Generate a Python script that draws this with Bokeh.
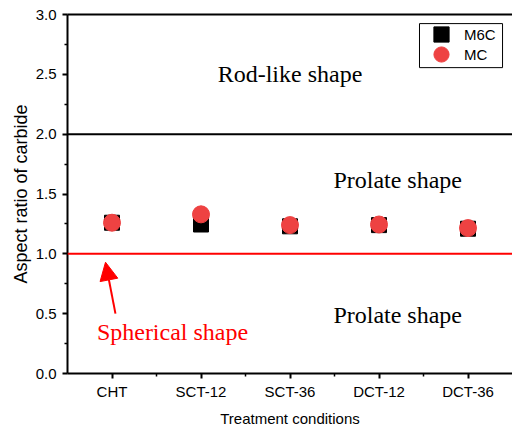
from bokeh.plotting import figure
from bokeh.models import (Range1d, FixedTicker, LinearAxis, Span, Label, Arrow,
                          NormalHead, Whisker, ColumnDataSource, Legend, LegendItem,
                          PrintfTickFormatter, BoxAnnotation)
from bokeh.embed import file_html
from bokeh.resources import INLINE

categories = ["CHT", "SCT-12", "SCT-36", "DCT-12", "DCT-36"]
m6c = [1.26, 1.245, 1.23, 1.24, 1.21]
m6c_err = [0.03, 0.03, 0.02, 0.03, 0.03]
mc = [1.26, 1.33, 1.24, 1.245, 1.215]
mc_err = [0.04, 0.02, 0.02, 0.03, 0.04]
y_ticks = [0.0, 0.5, 1.0, 1.5, 2.0, 2.5, 3.0]

xs = list(range(1, len(categories) + 1))
SANS = "Liberation Sans"
SERIF = "Liberation Serif"
RED = "#EE4242"

p = figure(width=512, height=430, output_backend="svg", toolbar_location=None,
           x_range=Range1d(0.5, len(categories) + 0.5), y_range=Range1d(0, 3),
           min_border_left=67, min_border_right=0, min_border_top=14, min_border_bottom=57)
p.grid.visible = False
p.outline_line_color = None
p.background_fill_color = "white"
p.border_fill_color = "white"

xa = p.xaxis[0]
xa.ticker = FixedTicker(ticks=xs, minor_ticks=[x + 0.5 for x in xs[:-1]])
xa.major_label_overrides = {x: c for x, c in zip(xs, categories)}
xa.axis_label = "Treatment conditions"
ya = p.yaxis[0]
ya.ticker = FixedTicker(ticks=y_ticks, minor_ticks=[t + 0.25 for t in y_ticks[:-1]])
ya.axis_label = "Aspect ratio of carbide"
ya.formatter = PrintfTickFormatter(format="%.1f")

for ax in (xa, ya):
    ax.axis_line_width = 2
    ax.axis_line_color = "black"
    ax.major_tick_line_width = 2
    ax.minor_tick_line_width = 1.5
    ax.major_tick_in = 0
    ax.major_tick_out = 5
    ax.minor_tick_in = 0
    ax.minor_tick_out = 3
    ax.major_label_text_font = SANS
    ax.major_label_text_font_size = "15px"
    ax.major_label_text_color = "black"
    ax.axis_label_text_font = SANS
    ax.axis_label_text_font_style = "normal"
    ax.axis_label_text_color = "black"
xa.major_label_standoff = 4
xa.axis_label_text_font_size = "15px"
xa.axis_label_standoff = 7
ya.major_label_standoff = 6
ya.axis_label_text_font_size = "18px"
ya.axis_label_standoff = 2

top = LinearAxis(ticker=FixedTicker(ticks=[]), major_label_text_font_size="0px",
                 axis_line_width=2, axis_line_color="black",
                 major_tick_line_color=None, minor_tick_line_color=None)
p.add_layout(top, "above")

p.add_layout(Span(location=2.0, dimension="width", line_color="black", line_width=2))
p.add_layout(Span(location=1.0, dimension="width", line_color="#FF0000", line_width=2))

src = ColumnDataSource(dict(x=xs, m6c=m6c, mc=mc,
                            m6c_lo=[v - e for v, e in zip(m6c, m6c_err)],
                            m6c_hi=[v + e for v, e in zip(m6c, m6c_err)],
                            mc_lo=[v - e for v, e in zip(mc, mc_err)],
                            mc_hi=[v + e for v, e in zip(mc, mc_err)]))

r1 = p.scatter("x", "m6c", source=src, marker="square", size=15,
               fill_color="black", line_color="black")
p.add_layout(Whisker(source=src, base="x", lower="m6c_lo", upper="m6c_hi",
                     line_color="#222222", line_width=1,
                     upper_head=None, lower_head=None))
r2 = p.scatter("x", "mc", source=src, marker="circle", size=17,
               fill_color=RED, line_color=RED)
w2 = Whisker(source=src, base="x", lower="mc_lo", upper="mc_hi",
             line_color="#A03030", line_width=1, line_alpha=0.6)
for h in (w2.upper_head, w2.lower_head):
    h.size = 8
    h.line_color = "#A03030"
    h.line_alpha = 0.7
p.add_layout(w2)

# legend frame
p.add_layout(BoxAnnotation(left=4.455, right=5.388, bottom=2.556, top=2.924,
                           fill_color="white", fill_alpha=1,
                           line_color="black", line_width=1, line_alpha=1))

def one_legend(label, r, y):
    lg = Legend(items=[LegendItem(label=label, renderers=[r])],
                location=(355, y), border_line_color=None,
                background_fill_alpha=0,
                label_text_font=SANS, label_text_font_size="15px",
                label_text_color="black",
                padding=0, spacing=0, glyph_height=38, glyph_width=38,
                label_height=20, label_standoff=4, margin=0)
    p.add_layout(lg)

one_legend("M6C", r1, 320)
one_legend("MC", r2, 300)

def lab(x, y, t, color="black"):
    p.add_layout(Label(x=x, y=y, text=t, text_font=SERIF, text_font_size="24px",
                       text_color=color, text_align="center", text_baseline="middle"))

lab(3.0, 2.505, "Rod-like shape")
lab(4.21, 1.617, "Prolate shape")
lab(4.21, 0.49, "Prolate shape")
lab(1.68, 0.345, "Spherical shape", "#FF0000")

p.add_layout(Arrow(x_start=1.039, y_start=0.50, x_end=0.927, y_end=0.93,
                   line_color="#FF0000", line_width=2,
                   end=NormalHead(size=18, fill_color="#FF0000", line_color="#FF0000")))

open("out.html", "w").write(file_html(p, INLINE))
